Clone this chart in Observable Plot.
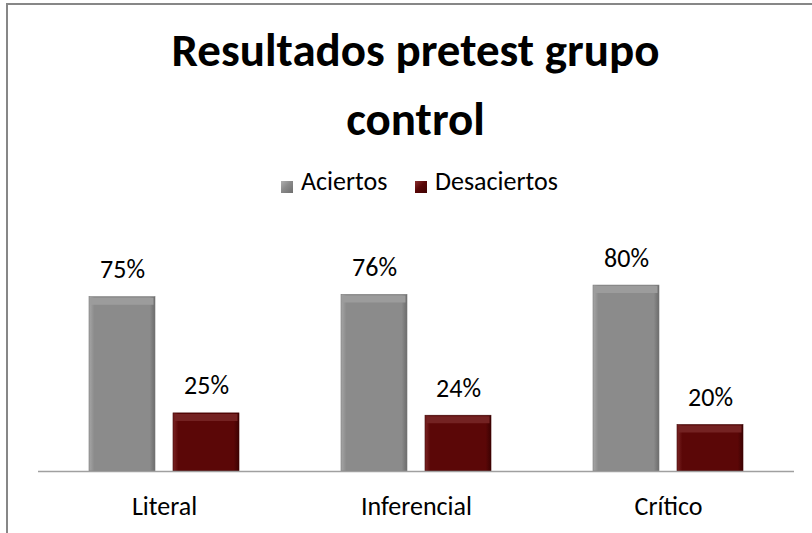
<!DOCTYPE html>
<html>
<head>
<meta charset="utf-8">
<script src="https://cdn.jsdelivr.net/npm/d3@7"></script>
<script src="https://cdn.jsdelivr.net/npm/@observablehq/plot@0.6"></script>
<style>
  html, body { margin: 0; padding: 0; background: #fff; width: 812px; height: 533px; overflow: hidden; }
  body { position: relative; font-family: Carlito, Lato, sans-serif; color: #000; }
  #frame { position: absolute; left: 6px; top: 3px; width: 1000px; height: 1000px; border: 2px solid #878787; box-sizing: border-box; }
  .title { position: absolute; left: 0; width: 831px; text-align: center; font-weight: bold; font-size: 47px; line-height: 47px; white-space: nowrap; }
  .leg { position: absolute; font-size: 26px; line-height: 26px; white-space: nowrap; }
  .sw { position: absolute; width: 12px; height: 12px; top: 181px; box-sizing: border-box; }
  #chart { position: absolute; left: 0; top: 200px; }
</style>
</head>
<body>
<div id="frame"></div>
<div class="title" id="t1" style="top:27px">Resultados pretest grupo</div>
<div class="title" id="t2" style="top:96px">control</div>
<div class="sw" style="left:281px;background:linear-gradient(135deg,#b0b0b0,#8a8a8a 45%,#6e6e6e);"></div>
<div class="leg" id="l1" style="left:301px;top:168px"></div>
<div class="sw" style="left:415px;background:linear-gradient(135deg,#8a3030,#5a0707 45%,#3e0202);"></div>
<div class="leg" id="l2" style="left:435px;top:168px"></div>
<div id="chart"></div>
<script>
const categorias = ["Literal", "Inferencial", "Crítico"];
const series = ["Aciertos", "Desaciertos"];
const aciertos = [75, 76, 80];
const desaciertos = [25, 24, 20];

document.getElementById("l1").textContent = series[0];
document.getElementById("l2").textContent = series[1];

const datos = [];
categorias.forEach((c, i) => {
  datos.push({categoria: c, serie: series[0], valor: aciertos[i]});
  datos.push({categoria: c, serie: series[1], valor: desaciertos[i]});
});
const datA = datos.filter(d => d.serie === series[0]);
const datD = datos.filter(d => d.serie === series[1]);

const common = {fx: "categoria", x: "serie", y: "valor"};

const chart = Plot.plot({
  width: 812,
  height: 330,
  marginLeft: 37,
  marginRight: 17,
  marginTop: 38.6,
  marginBottom: 59,
  style: {fontFamily: "Carlito, Lato, sans-serif", color: "#000", background: "transparent"},
  fx: {domain: categorias, padding: 0, label: null},
  x: {domain: series, paddingInner: 0.21, paddingOuter: 0.59, axis: null},
  y: {domain: [0, 100], axis: null},
  marks: [
    Plot.barY(datA, {...common, fill: "url(#gGray)", stroke: "#777", strokeWidth: 0.6}),
    Plot.barY(datD, {...common, fill: "url(#gRed)", stroke: "#3e0303", strokeWidth: 0.6}),
    Plot.tickY(datA, {...common, stroke: "#9c9c9c", strokeWidth: 7, dy: 4, insetLeft: 1.5, insetRight: 1.5}),
    Plot.tickY(datD, {...common, stroke: "#742222", strokeWidth: 7, dy: 4, insetLeft: 1.5, insetRight: 1.5}),
    Plot.ruleY([0], {stroke: "#a0a0a0", strokeWidth: 1.5}),
    Plot.text(datos, {...common, text: d => d.valor + "%", lineAnchor: "bottom", dy: -19, fontSize: 26, fill: "#000"}),
    Plot.axisFx({anchor: "bottom", tickSize: 0, tickPadding: 25, fontSize: 26, label: null, fill: "#000"})
  ]
});

const ns = "http://www.w3.org/2000/svg";
const defs = document.createElementNS(ns, "defs");
function grad(id, stops) {
  const g = document.createElementNS(ns, "linearGradient");
  g.setAttribute("id", id);
  g.setAttribute("x1", "0"); g.setAttribute("x2", "1");
  g.setAttribute("y1", "0"); g.setAttribute("y2", "0");
  stops.forEach(([o, c]) => {
    const s = document.createElementNS(ns, "stop");
    s.setAttribute("offset", o);
    s.setAttribute("stop-color", c);
    g.appendChild(s);
  });
  defs.appendChild(g);
}
grad("gGray", [["0", "#a6a6a6"], ["0.08", "#8b8b8b"], ["0.92", "#8b8b8b"], ["1", "#6c6c6c"]]);
grad("gRed", [["0", "#7a2424"], ["0.08", "#5b0707"], ["0.92", "#5b0707"], ["1", "#3c0202"]]);
chart.insertBefore(defs, chart.firstChild);

document.getElementById("chart").appendChild(chart);
</script>
</body>
</html>
